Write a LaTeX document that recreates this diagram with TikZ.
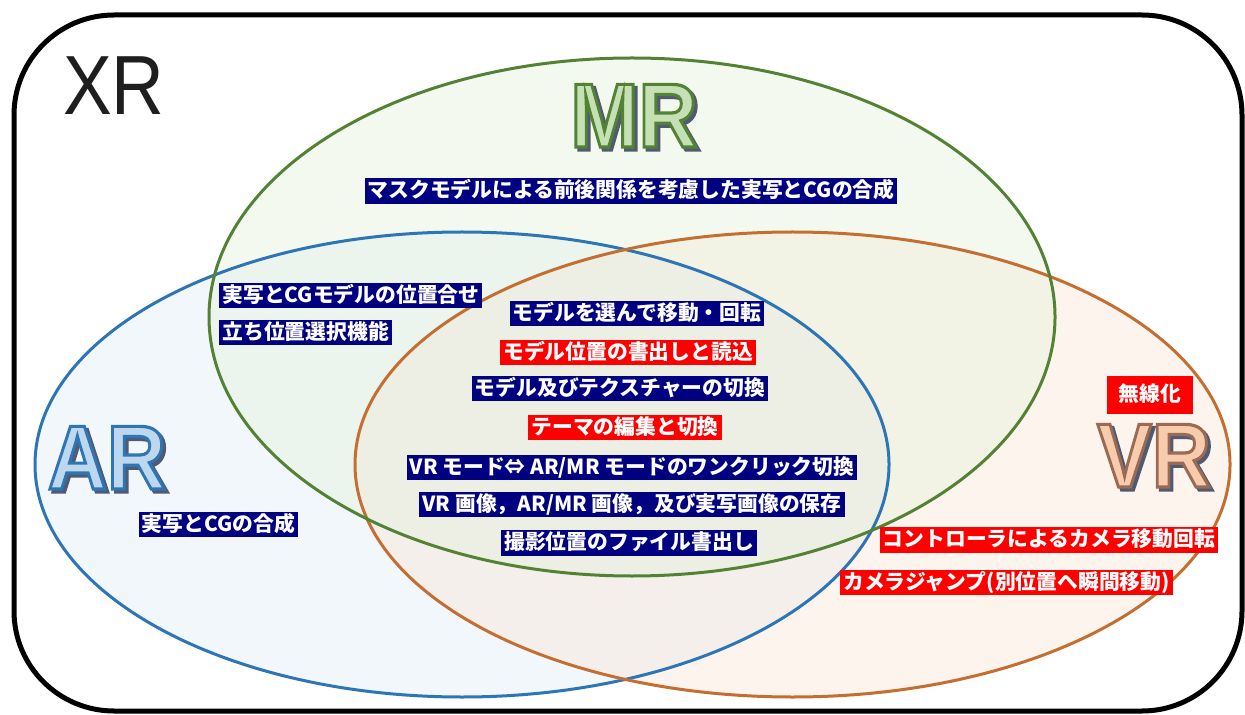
\documentclass[tikz,border=0pt]{standalone}
\usepackage{fontspec}
\setmainfont{Liberation Sans}
\newfontfamily\jpfont{Noto Sans CJK JP}
\usetikzlibrary{calc}
\definecolor{navy}{RGB}{0,0,128}
\definecolor{redc}{RGB}{255,0,0}
\definecolor{arline}{RGB}{46,117,182}
\definecolor{mrline}{RGB}{84,130,53}
\definecolor{vrline}{RGB}{197,110,50}
\definecolor{arfill}{RGB}{222,235,247}
\definecolor{mrfill}{RGB}{226,240,217}
\definecolor{vrfill}{RGB}{251,229,214}
\definecolor{arletter}{RGB}{189,215,238}
\definecolor{mrletter}{RGB}{197,224,180}
\definecolor{vrletter}{RGB}{248,203,173}
\definecolor{shadowc}{RGB}{80,90,112}
\definecolor{xrc}{RGB}{30,30,30}
\tikzset{
  lab/.style={font=\jpfont\bfseries\fontsize{10.4pt}{12pt}\selectfont, text=white,
    inner xsep=1.5pt, inner ysep=1pt, text height=8.8pt, text depth=1.9pt},
  navylab/.style={lab, fill=navy},
  redlab/.style={lab, fill=redc},
  bigword/.style={font=\bfseries\fontsize{45.5pt}{50pt}\selectfont, inner sep=0pt, anchor=base, xscale=0.9},
  venn/.style={line width=1.5pt},
}
% #1 name, #2 x, #3 y, #4 text, #5 fill colour, #6 stroke colour as "r g b"
\newcommand\outlinedword[6]{%
  \node[bigword, text=shadowc] (#1s) at (#2+3,#3+3)
    {\special{pdf:literal direct 0.314 0.353 0.439 RG 2 Tr 1.6 w}#4\special{pdf:literal direct 0 Tr}};
  \node[bigword, text=#5] (#1) at (#2,#3)
    {\special{pdf:literal direct #6 RG 2 Tr 1.6 w}#4\special{pdf:literal direct 0 Tr}};
}
\begin{document}
\begin{tikzpicture}[x=0.5pt,y=-0.5pt]
\useasboundingbox (0,0) rectangle (1245,715);
\fill[white] (0,0) rectangle (1245,715);
% outer XR frame
\draw[line width=2.5pt, rounded corners=50pt] (14,15) rectangle (1242,711);
\node[font=\fontsize{42pt}{46pt}\selectfont, text=xrc, inner sep=0pt, anchor=base, xscale=0.87] (xr) at (114,115) {XR};
% fills
\begin{scope}[fill opacity=0.4]
  \fill[arfill] (462,464.5) ellipse [x radius=213.5pt, y radius=116.25pt];
  \fill[vrfill] (792.5,464.5) ellipse [x radius=218.75pt, y radius=116.25pt];
  \fill[mrfill] (632,317) ellipse [x radius=211.5pt, y radius=129.5pt];
\end{scope}
% outlines
\draw[venn, arline] (462,464.5) ellipse [x radius=213.5pt, y radius=116.25pt];
\draw[venn, vrline] (792.5,464.5) ellipse [x radius=218.75pt, y radius=116.25pt];
\draw[venn, mrline] (632,317) ellipse [x radius=211.5pt, y radius=129.5pt];
% big labels
\outlinedword{mr}{634}{147}{MR}{mrletter}{0.329 0.510 0.208}
\outlinedword{ar}{107}{489}{AR}{arletter}{0.180 0.459 0.714}
\outlinedword{vr}{1154}{487}{VR}{vrletter}{0.600 0.420 0.330}
% feature labels
\node[navylab] (l1) at (631,191) {マスクモデルによる前後関係を考慮した実写とCGの合成};
\node[navylab, anchor=west] (l2) at (219,295.5) {実写とCGモデルの位置合せ};
\node[navylab, anchor=west] (l3) at (219,332.5) {立ち位置選択機能};
\node[navylab] (l4) at (637,313.5) {モデルを選んで移動・回転};
\node[redlab] (l5) at (628,352.5) {モデル位置の書出しと読込};
\node[navylab] (l6) at (620,388.5) {モデル及びテクスチャーの切換};
\node[redlab] (l7) at (625,427.5) {テーマの編集と切換};
\node[navylab] (l8) at (632,467.5) {VR モード⇔ AR/MR モードのワンクリック切換};
\node[navylab] (l9) at (632,504.5) {VR 画像，AR/MR 画像，及び実写画像の保存};
\node[navylab] (l10) at (629,543) {撮影位置のファイル書出し};
\node[navylab] (l11) at (218.5,524.5) {実写とCGの合成};
\node[redlab, inner xsep=6pt, inner ysep=4pt] (l12) at (1150,395) {無線化};
\node[redlab] (l13) at (1049,540) {コントローラによるカメラ移動回転};
\node[redlab] (l14) at (1006.5,582.5) {カメラジャンプ(別位置へ瞬間移動)};
\end{tikzpicture}
\end{document}
